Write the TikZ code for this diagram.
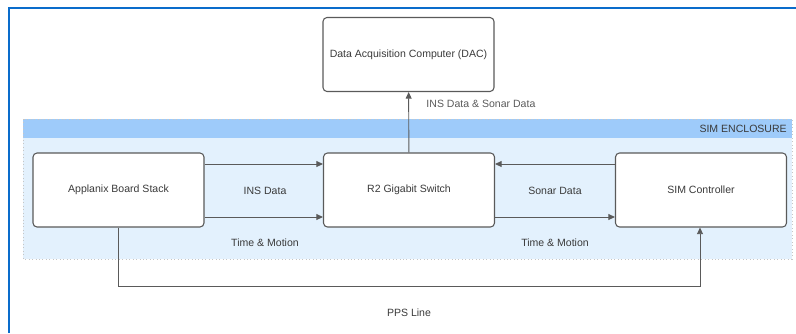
\documentclass[tikz,border=0pt]{standalone}
\usepackage{fontspec}
\setmainfont{Liberation Sans}
\usepackage{xcolor}
\definecolor{simframe}{HTML}{0A6CCB}
\definecolor{simband}{HTML}{9ECBFA}
\definecolor{simlight}{HTML}{E3F1FD}
\definecolor{simedge}{HTML}{5A5A5A}
\definecolor{simtext}{HTML}{3A3A3A}
\usepackage{tikz}
\usetikzlibrary{positioning,arrows.meta}

\begin{document}
\begin{tikzpicture}[
  x=0.75pt, y=-0.75pt,
  font=\fontsize{7.9}{9.5}\selectfont, text=simtext,
  unit/.style={draw=simedge, line width=0.8pt, rounded corners=3pt, fill=white, align=center, minimum width=128.25pt, minimum height=55.5pt, inner sep=0pt},
  arr/.style={-{Triangle[length=5pt,width=4.5pt]}, line width=0.7pt, color=simedge},
  lab/.style={inner sep=1pt},
]
  \useasboundingbox (0,0) rectangle (796,333);
  % outer frame
  \draw[simframe, line width=1.5pt] (9,333) -- (9,8) -- (796,8);
  % SIM enclosure
  \fill[simlight] (23,119) rectangle (792,259);
  \fill[simband] (23,119) rectangle (792,138);
  \draw[gray!45, dotted, line width=0.6pt] (23,119) rectangle (792,259);
  \node[anchor=east, inner sep=0pt] (encl) at (787,128.5) {SIM ENCLOSURE};

  \node[unit] (dac) at (408.5,54.5) {Data Acquisition Computer (DAC)};
  \node[unit] (applanix) at (118.5,190) {Applanix Board Stack};
  \node[unit] (switch) at (409,190) {R2 Gigabit Switch};
  \node[unit] (simctl) at (701,190) {SIM Controller};

  \draw[arr] (applanix.east |- 0,164) -- (switch.west |- 0,164);
  \draw[arr] (applanix.east |- 0,217) -- (switch.west |- 0,217);
  \draw[arr] (simctl.west |- 0,164) -- (switch.east |- 0,164);
  \draw[arr] (switch.east |- 0,217) -- (simctl.west |- 0,217);
  \draw[arr] (switch) -- node[lab, anchor=west, pos=0.8, xshift=12pt]{INS Data \& Sonar Data} (dac);
  \draw[arr] (applanix.south) -- ++(0,59) -| (simctl.south -| 700,0);

  \node[lab] (insd) at (265,191) {INS Data};
  \node[lab] (tm1) at (265,243) {Time \& Motion};
  \node[lab] (sonar) at (555,191) {Sonar Data};
  \node[lab] (tm2) at (555,243) {Time \& Motion};
  \node[lab] (pps) at (409,313) {PPS Line};
\end{tikzpicture}
\end{document}
